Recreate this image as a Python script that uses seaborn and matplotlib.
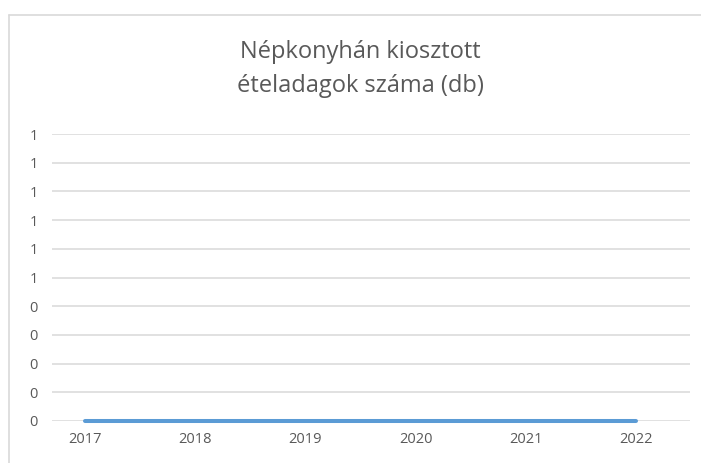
import matplotlib
matplotlib.use("Agg")
import matplotlib.pyplot as plt
import seaborn as sns
import pandas as pd
import numpy as np
from matplotlib.lines import Line2D

#%% data
years = [2017, 2018, 2019, 2020, 2021, 2022]
adagok = [0, 0, 0, 0, 0, 0]
y_ticks = [0.0, 0.1, 0.2, 0.3, 0.4, 0.5, 0.6, 0.7, 0.8, 0.9, 1.0]
y_labels = ['0', '0', '0', '0', '0', '1', '1', '1', '1', '1', '1']
title = 'Népkonyhán kiosztott\nételadagok száma (db)'

df = pd.DataFrame({'ev': years, 'db': adagok})

#%% plot
sns.set_theme(style='white')
plt.rcParams['font.family'] = ['Open Sans', 'DejaVu Sans']
txt = '#595959'

fig = plt.figure(figsize=(7.01, 4.63), dpi=100)
ax = fig.add_axes([52/701, 42/463, 638/701, 287/463])

sns.lineplot(data=df, x='ev', y='db', ax=ax, color='#5B9BD5', linewidth=2.9,
             solid_capstyle='round', clip_on=False, zorder=3)

ax.set_xlim(2017 - 0.3, 2022 + 0.49)
ax.set_ylim(0, 1)
ax.set_yticks(y_ticks)
ax.set_yticklabels(y_labels)
ax.set_xticks(years)
ax.set_xticklabels([str(y) for y in years])
ax.yaxis.grid(True, color='#D9D9D9', linewidth=1.1)
ax.xaxis.grid(False)
for s in ax.spines.values():
    s.set_visible(False)
ax.tick_params(axis='both', length=0, labelsize=10.5, labelcolor=txt)
ax.tick_params(axis='y', pad=10)
ax.tick_params(axis='x', pad=8)
ax.set_xlabel('')
ax.set_ylabel('')

fig.text(0.514, 1 - 69/463, title, ha='center', va='center', fontsize=17,
         color=txt, linespacing=1.55)

# chart frame like the Excel chart area
fig.add_artist(Line2D([8.5/701, 8.5/701], [0, 1 - 14.5/463], color='#D9D9D9', linewidth=1.2))
fig.add_artist(Line2D([8.5/701, 1], [1 - 14.5/463, 1 - 14.5/463], color='#D9D9D9', linewidth=1.2))

fig.savefig('out.png', dpi=100)
